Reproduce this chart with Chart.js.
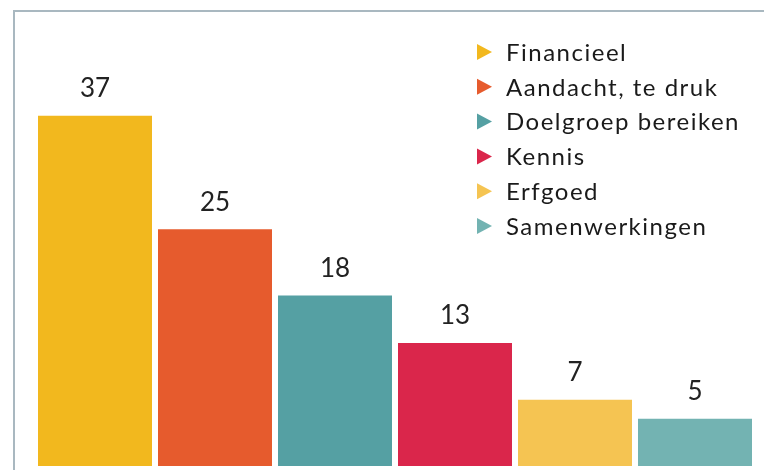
<!DOCTYPE html>
<html>
<head>
<meta charset="utf-8">
<script src="https://cdn.jsdelivr.net/npm/chart.js@4/dist/chart.umd.min.js"></script>
<style>
  html, body { margin: 0; padding: 0; background: #fff; }
  #wrap { position: relative; width: 764px; height: 470px; overflow: hidden; }
  #frame { position: absolute; left: 13px; top: 10px; width: 800px; height: 500px;
           border-left: 2px solid #a9b8c0; border-top: 2px solid #a9b8c0; }
  #chart { position: absolute; left: 0; top: 0; }
</style>
</head>
<body>
<div id="wrap">
  <div id="frame"></div>
  <canvas id="chart" width="764" height="470"></canvas>
</div>
<script>
const categories = ["Financieel", "Aandacht, te druk", "Doelgroep bereiken", "Kennis", "Erfgoed", "Samenwerkingen"];
const counts = [37, 25, 18, 13, 7, 5];
const colors = ["#f2b81e", "#e65b2d", "#55a0a3", "#da264b", "#f5c452", "#73b3b2"];

const fontFam = "Lato, 'Noto Sans', sans-serif";

// value above each bar
const valueLabels = {
  id: "valueLabels",
  afterDatasetsDraw(chart) {
    const ctx = chart.ctx;
    const meta = chart.getDatasetMeta(0);
    ctx.save();
    ctx.fillStyle = "#222";
    ctx.font = "26px " + fontFam;
    ctx.textAlign = "center";
    ctx.textBaseline = "middle";
    meta.data.forEach((bar, i) => {
      ctx.fillText(String(counts[i]), bar.x, bar.y - 27);
    });
    ctx.restore();
  }
};

// legend with triangle markers in the top right
const triLegend = {
  id: "triLegend",
  afterDraw(chart) {
    const ctx = chart.ctx;
    ctx.save();
    ctx.font = "24px " + fontFam;
    ctx.letterSpacing = "1.5px";
    ctx.textBaseline = "middle";
    ctx.textAlign = "left";
    categories.forEach((name, i) => {
      const y = 52 + i * 34.8;
      ctx.fillStyle = colors[i];
      ctx.beginPath();
      ctx.moveTo(477, y - 8);
      ctx.lineTo(492, y);
      ctx.lineTo(477, y + 8);
      ctx.closePath();
      ctx.fill();
      ctx.fillStyle = "#1a1a1a";
      ctx.fillText(name, 506, y + 1);
    });
    ctx.restore();
  }
};

new Chart(document.getElementById("chart"), {
  type: "bar",
  data: {
    labels: categories,
    datasets: [{
      data: counts,
      backgroundColor: colors,
      borderWidth: 0,
      categoryPercentage: 1,
      barPercentage: 0.95
    }]
  },
  options: {
    responsive: false,
    animation: false,
    layout: { padding: { left: 35, right: 9, top: 40, bottom: 4 } },
    plugins: {
      legend: { display: false },
      tooltip: { enabled: false }
    },
    scales: {
      x: { display: false },
      y: { display: false, min: 0, max: 45 }
    }
  },
  plugins: [valueLabels, triLegend]
});
</script>
</body>
</html>
